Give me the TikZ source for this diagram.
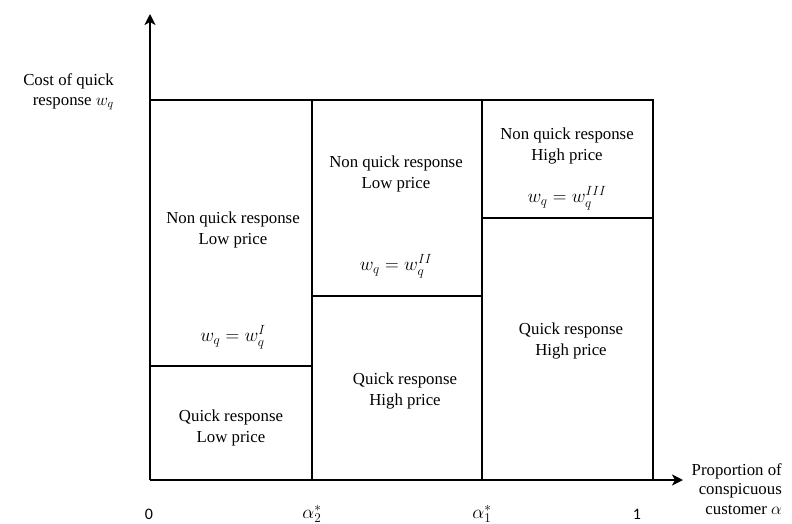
\documentclass[tikz,border=0pt]{standalone}
\usepackage{fix-cm}
\usepackage{fontspec}
\setmainfont{Liberation Serif}
\newfontfamily\numfont{Carlito}
\usetikzlibrary{arrows.meta}

\begin{document}
\begin{tikzpicture}[
  x=1pt, y=-1pt,
  every node/.style={font=\fontsize{16.8}{21}\selectfont},
  axis/.style={line width=2.4pt, -{Stealth[length=11pt, width=11pt, inset=3pt]}},
  border/.style={line width=2.4pt},
  region/.style={align=center, inner sep=0pt},
  cond/.style={inner sep=0pt, font=\fontsize{19}{21}\selectfont},
  tick/.style={font=\numfont\fontsize{16}{18}\selectfont, inner sep=0pt},
  axislabel/.style={inner sep=0pt, font=\fontsize{16.8}{19.5}\selectfont},
]
\useasboundingbox (0,0) rectangle (792,524);

% corners and splits
\coordinate (O)    at (150,480);
\coordinate (ytip) at (150,14);
\coordinate (xtip) at (683,480);
\coordinate (TL)   at (150,100);
\coordinate (TR)   at (653,100);
\coordinate (a2t)  at (312,100);
\coordinate (a2b)  at (312,480);
\coordinate (a1t)  at (482,100);
\coordinate (a1b)  at (482,480);
\coordinate (oneb) at (653,480);

% axes
\draw[axis] (O) -- (ytip);
\draw[axis] (O) -- (xtip);

% frame
\draw[border] (TL) -- (TR) -- (oneb);
\draw[border] (a2t) -- (a2b);
\draw[border] (a1t) -- (a1b);

% thresholds
\draw[border] (150,366) -- (312,366);
\draw[border] (312,296) -- (482,296);
\draw[border] (482,218) -- (653,218);

% regions
\node[region] (nqlowA) at (233,230) {Non quick response\\Low price};
\node[cond]   (wI)     at (233,337) {$w_q=w_q^{I}$};
\node[region] (qlow)   at (231,428) {Quick response\\Low price};
\node[region] (nqlowB) at (396,174) {Non quick response\\Low price};
\node[cond]   (wII)    at (396,266) {$w_q=w_q^{II}$};
\node[region] (qhighA) at (405,391) {Quick response\\High price};
\node[region] (nqhigh) at (567,146) {Non quick response\\High price};
\node[cond]   (wIII)   at (567,198) {$w_q=w_q^{III}$};
\node[region] (qhighB) at (571,341) {Quick response\\High price};

% axis labels
\node[axislabel, align=right, anchor=east] (ylab) at (114,92)
  {Cost of quick\\response $w_q$};
\node[axislabel, align=right, anchor=east] (xlab) at (782,489)
  {Proportion of\\conspicuous\\customer $\alpha$};

% ticks
\node[tick] (t0)  at (149,514) {0};
\node[tick, font=\fontsize{19}{21}\selectfont] (ta2) at (312,514) {$\alpha_2^*$};
\node[tick, font=\fontsize{19}{21}\selectfont] (ta1) at (482,514) {$\alpha_1^*$};
\node[tick] (t1)  at (637,514) {1};
\end{tikzpicture}
\end{document}
